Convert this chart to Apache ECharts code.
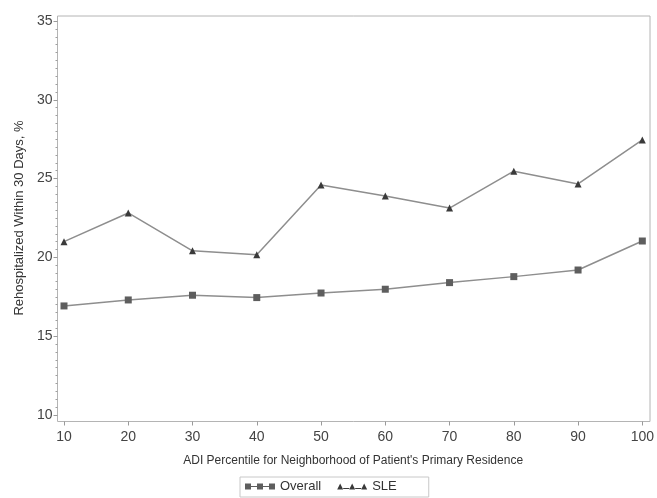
<!DOCTYPE html>
<html>
<head>
<meta charset="utf-8">
<script src="https://cdn.jsdelivr.net/npm/echarts@6/dist/echarts.min.js"></script>
<style>html,body{margin:0;padding:0;background:#fff}#c{width:657px;height:498px}</style>
</head>
<body>
<div id="c"></div>
<script>
const adiPercentiles = [10, 20, 30, 40, 50, 60, 70, 80, 90, 100];
const overallValues = [16.92, 17.3, 17.6, 17.45, 17.74, 17.98, 18.4, 18.78, 19.2, 21.04];
const sleValues = [21.0, 22.82, 20.42, 20.17, 24.6, 23.9, 23.13, 25.47, 24.66, 27.45];
const seriesNames = ['Overall', 'SLE'];
const xTitle = "ADI Percentile for Neighborhood of Patient's Primary Residence";
const yTitle = 'Rehospitalized Within 30 Days, %';

const font = '"Liberation Sans", Arial, sans-serif';
const chart = echarts.init(document.getElementById('c'), null, {renderer: 'canvas'});
const sqIcon = 'path://M0,0h6v6h-6z M12,0h6v6h-6z M24,0h6v6h-6z M6,2.6h6v0.9h-6z M18,2.6h6v0.9h-6z';
const triIcon = 'path://M3,0L6,6L0,6z M15,0L18,6L12,6z M27,0L30,6L24,6z M6,4.6h6v0.9h-6z M18,4.6h6v0.9h-6z';

chart.setOption({
  animation: false,
  textStyle: {fontFamily: font},
  grid: [
    {left: 57.5, right: 7, top: 16, bottom: 76.5, show: true, borderColor: '#b4b4b4', borderWidth: 1, backgroundColor: 'transparent'},
    {left: 64, right: 12, top: 21, bottom: 83}
  ],
  xAxis: [
    {gridIndex: 0, type: 'value', show: false, min: 0, max: 1},
    {gridIndex: 1, type: 'value', min: 10, max: 100, interval: 10, offset: 6.5,
     axisLine: {show: false},
     axisTick: {show: true, length: 4, lineStyle: {color: '#9a9a9a'}},
     axisLabel: {margin: 9, color: '#444', fontSize: 14, fontFamily: font},
     splitLine: {show: false},
     name: xTitle, nameLocation: 'middle', nameGap: 33,
     nameTextStyle: {color: '#333', fontSize: 12, fontFamily: font}}
  ],
  yAxis: [
    {gridIndex: 0, type: 'value', show: false, min: 0, max: 1},
    {gridIndex: 1, type: 'value', min: 10, max: 35, interval: 5, offset: 6.5,
     axisLine: {show: false},
     axisTick: {show: true, length: 4, lineStyle: {color: '#9a9a9a'}},
     minorTick: {show: true, splitNumber: 10, length: 2, lineStyle: {color: '#a0a0a0'}},
     axisLabel: {margin: 5, color: '#444', fontSize: 14, fontFamily: font},
     splitLine: {show: false},
     name: yTitle, nameLocation: 'middle', nameGap: 32,
     nameTextStyle: {color: '#333', fontSize: 13, fontFamily: font}}
  ],
  legend: {
    left: 240, top: 477,
    padding: [3, 32, 4, 5],
    itemGap: 16,
    itemWidth: 30, itemHeight: 7,
    borderColor: '#c8c8c8', borderWidth: 1,
    textStyle: {color: '#333', fontSize: 13, fontFamily: font},
    data: [
      {name: seriesNames[0], icon: sqIcon, itemStyle: {color: '#5e5e5e'}},
      {name: seriesNames[1], icon: triIcon, itemStyle: {color: '#3a3a3a'}}
    ]
  },
  series: [
    {name: seriesNames[0], type: 'line', xAxisIndex: 1, yAxisIndex: 1,
     data: adiPercentiles.map((x, i) => [x, overallValues[i]]),
     symbol: 'rect', symbolSize: 7,
     lineStyle: {color: '#8e8e8e', width: 1.5},
     itemStyle: {color: '#5e5e5e'}},
    {name: seriesNames[1], type: 'line', xAxisIndex: 1, yAxisIndex: 1,
     data: adiPercentiles.map((x, i) => [x, sleValues[i]]),
     symbol: 'triangle', symbolSize: 7,
     lineStyle: {color: '#8e8e8e', width: 1.5},
     itemStyle: {color: '#3a3a3a'}}
  ]
});
</script>
</body>
</html>
